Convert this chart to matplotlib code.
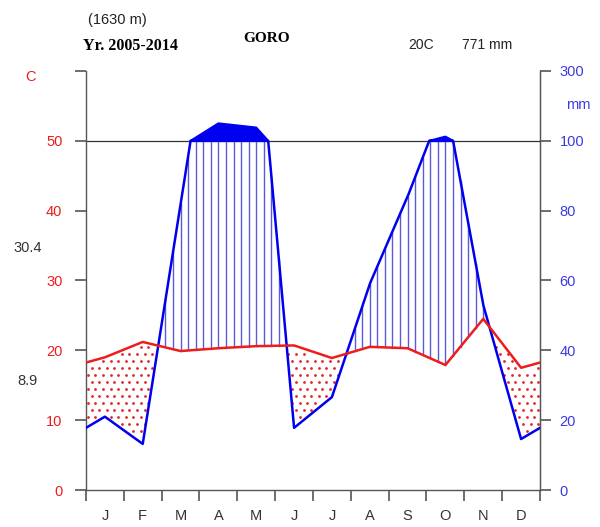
import numpy as np
import matplotlib.pyplot as plt

# Walter-Lieth climate diagram, GORO station
months = ['J', 'F', 'M', 'A', 'M', 'J', 'J', 'A', 'S', 'O', 'N', 'D']
temp_c = [19.0, 21.2, 19.9, 20.3, 20.6, 20.7, 18.9, 20.5, 20.3, 17.9, 24.5, 17.5]
precip_mm = [21.0, 13.2, 82.0, 150.0, 138.0, 17.8, 26.6, 59.0, 84.0, 112.0, 53.0, 14.6]

station = 'GORO'
altitude = '(1630 m)'
period = 'Yr. 2005-2014'
mean_temp = '20C'
total_precip = '771 mm'
max_warm = '30.4'
min_cold = '8.9'

left_ticks = [0, 10, 20, 30, 40, 50, 60]
left_labels = ['0', '10', '20', '30', '40', '50', '']
right_labels = ['0', '20', '40', '60', '80', '100', '300']

RED = '#ee1c1c'
BLUE = '#0000ee'
HATCH = '#5a5ad8'
GREY = '#555555'

# ------------------------------------------
# extend series to the axis edges
# ------------------------------------------
t = np.array(temp_c)
p = np.array(precip_mm)
xp = np.r_[0, np.arange(12) + 0.5, 12]
tp = np.r_[(t[0] + t[-1]) / 2, t, (t[0] + t[-1]) / 2]
pp = np.r_[(p[0] + p[-1]) / 2, p, (p[0] + p[-1]) / 2]
pu = pp / 2.0  # precipitation in temperature units (10 C = 20 mm)

# top of the solid area above 100 mm (compressed scale 1 C = 20 mm)
top_x, top_y = [], []
for i in range(len(xp)):
    if i > 0:
        a, b = pu[i - 1], pu[i]
        if (a - 50) * (b - 50) < 0:
            xc = xp[i - 1] + (50 - a) / (b - a) * (xp[i] - xp[i - 1])
            top_x.append(xc)
            top_y.append(50)
    top_x.append(xp[i])
    top_y.append(50 + (pp[i] - 100) / 20 if pp[i] > 100 else 50)

xs = np.linspace(0, 12, 2401)
p_line = np.minimum(np.interp(xs, xp, pu), 50)
top_line = np.interp(xs, top_x, top_y)

fig = plt.figure(figsize=(6, 5.27), dpi=100)
plt.rcParams['font.family'] = ['Liberation Sans', 'DejaVu Sans']
ax = fig.add_axes([0.1433, 0.0702, 0.7567, 0.7951])
ax.set_xlim(0, 12)
ax.set_ylim(0, 60)

# humid period: vertical hatching
for xh in np.arange(0.1, 12, 0.2):
    th = np.interp(xh, xp, tp)
    ph = min(np.interp(xh, xp, pu), 50)
    if ph > th:
        ax.plot([xh, xh], [th, ph], color=HATCH, lw=1.0, zorder=2)

# dry period: dots
dot_x, dot_y = [], []
for j, yy in enumerate(np.arange(0.5, 50, 1.0)):
    off = 0.1 if j % 2 else 0.0
    for xx in np.arange(0.05 + off, 12, 0.2):
        if np.interp(xx, xp, pu) + 0.5 < yy < np.interp(xx, xp, tp) - 0.4:
            dot_x.append(xx)
            dot_y.append(yy)
ax.scatter(dot_x, dot_y, s=4, color='#e02828', lw=0, zorder=2)

# 100 mm reference line
ax.axhline(50, color='#333333', lw=0.9, zorder=1)

# solid area above 100 mm
ax.fill_between(xs, 50, top_line, where=top_line > 50, color=BLUE,
                lw=1.5, edgecolor=BLUE, zorder=3)

ax.plot(xs, p_line, color=BLUE, lw=1.8, zorder=4)
ax.plot(xp, tp, color=RED, lw=1.8, zorder=5)

# axes styling
for side in ['left', 'right', 'bottom']:
    ax.spines[side].set_color(GREY)
    ax.spines[side].set_linewidth(1.0)
ax.spines['top'].set_visible(False)

ax.set_yticks(left_ticks)
ax.set_yticklabels(left_labels, color=RED, fontsize=10.5)
ax.tick_params(axis='y', length=8, width=1.2, color=GREY, pad=9)

ax.set_xticks(range(13))
ax.set_xticklabels([])
ax.set_xticks(np.arange(12) + 0.5, minor=True)
ax.set_xticklabels(months, minor=True, color='#333333', fontsize=10.5)
ax.tick_params(axis='x', which='major', length=8, width=1.2, color=GREY)
ax.tick_params(axis='x', which='minor', length=0, pad=14)

ax2 = ax.twinx()
ax2.set_ylim(0, 60)
ax2.set_yticks(left_ticks)
ax2.set_yticklabels(right_labels, color='#3b3be0', fontsize=10.5)
ax2.tick_params(axis='y', length=8, width=1.2, color=GREY, pad=6)
for side in ['left', 'top', 'bottom']:
    ax2.spines[side].set_visible(False)
ax2.spines['right'].set_color(GREY)

# header texts
fig.text(88 / 600, 1 - 20 / 527, altitude, fontsize=10.5, color='#222222', va='center')
fig.text(83 / 600, 1 - 46 / 527, period, fontsize=11.5, fontweight='bold',
         family='Liberation Serif', va='center')
fig.text(267 / 600, 1 - 38 / 527, station, fontsize=11, fontweight='bold',
         family='Liberation Serif', va='center', ha='center')
fig.text(421 / 600, 1 - 45 / 527, mean_temp, fontsize=10, color='#222222', va='center', ha='center')
fig.text(487 / 600, 1 - 45 / 527, total_precip, fontsize=10, color='#222222', va='center', ha='center')

fig.text(30 / 600, 1 - 77 / 527, 'C', fontsize=10.5, color=RED, va='center', ha='center')
fig.text(578 / 600, 1 - 105 / 527, 'mm', fontsize=10.5, color='#3b3be0', va='center', ha='center')
fig.text(28 / 600, 1 - 248 / 527, max_warm, fontsize=10.5, color='#333333', va='center', ha='center')
fig.text(28 / 600, 1 - 381 / 527, min_cold, fontsize=10.5, color='#333333', va='center', ha='center')

fig.savefig('out.png', dpi=100)
